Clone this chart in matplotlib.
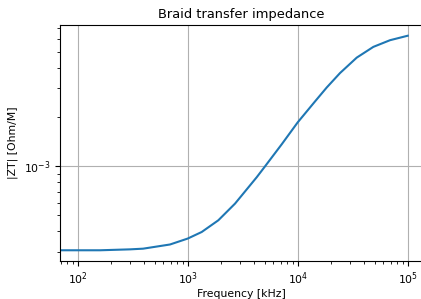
import numpy as np
import matplotlib
matplotlib.use('Agg')
import matplotlib.pyplot as plt

# values
freq_khz = [69, 160, 299, 393, 690, 1000, 1340, 1897, 2692, 4236, 5047,
            7161, 10000, 14360, 18350, 24240, 34390, 48680, 69040, 100000]
zt_ohm_m = [3.06e-4, 3.06e-4, 3.10e-4, 3.13e-4, 3.32e-4, 3.61e-4, 3.96e-4,
            4.67e-4, 5.91e-4, 8.57e-4, 1.0e-3, 1.366e-3, 1.860e-3, 2.497e-3,
            3.040e-3, 3.727e-3, 4.633e-3, 5.391e-3, 5.924e-3, 6.310e-3]

plt.rcParams['font.size'] = 7.8

fig = plt.figure(figsize=(4.21, 2.99), dpi=100)
# right spine sits just outside the picture, like the cropped original
ax = fig.add_axes([60/421, 38/299, 363/421, 236/299])
ax.plot(freq_khz, zt_ohm_m, color='#1f77b4', lw=1.5)
ax.set_xscale('log')
ax.set_yscale('log')
ax.set_xlim(69, 1.377e5)
ax.grid(True, which='major')
ax.set_title('Braid transfer impedance', fontsize=9.4, pad=5)
ax.set_xlabel('Frequency [kHz]', labelpad=1.5)
ax.set_ylabel('|ZT| [Ohm/M]')

fig.savefig('out.png', dpi=100)
